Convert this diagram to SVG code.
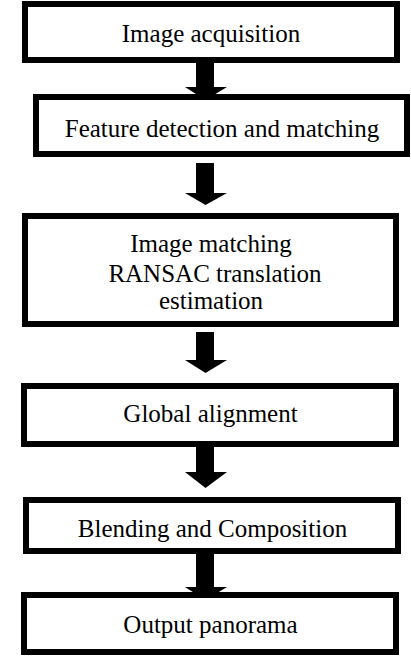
<svg xmlns="http://www.w3.org/2000/svg" width="411" height="661" viewBox="0 0 411 661">
<style>
.box{fill:#fff;stroke:#000;stroke-width:6}
.arrow{fill:#000}
.t{font-family:'Liberation Serif','Times New Roman',Times,serif;font-size:25px;fill:#000;text-anchor:middle}
</style>
<rect width="411" height="661" fill="#fff"/>
<g id="connectors">
<polygon class="arrow" points="196,62 214,62 214,87 227,87 205.5,100 185,87 196,87"/>
<polygon class="arrow" points="196,163 214,163 214,193 227,193 205.5,205 185,193 196,193"/>
<polygon class="arrow" points="196,332 214,332 214,360 227,360 205.5,373 185,360 196,360"/>
<polygon class="arrow" points="196,446 214,446 214,472 227,472 205.5,488 185,472 196,472"/>
<polygon class="arrow" points="196,553 214,553 214,587 227,587 205.5,600 185,587 196,587"/>
</g>
<g id="n1"><rect class="box" x="25" y="4" width="372" height="56"/><text class="t" x="211" y="42">Image acquisition</text></g>
<g id="n2"><rect class="box" x="36" y="97" width="371" height="57"/><text class="t" x="222" y="137">Feature detection and matching</text></g>
<g id="n3"><rect class="box" x="25" y="216" width="371" height="108"/>
<text class="t" x="211" y="252">Image matching</text>
<text class="t" x="215" y="282">RANSAC translation</text>
<text class="t" x="211" y="309">estimation</text></g>
<g id="n4"><rect class="box" x="24" y="386" width="372" height="58"/><text class="t" x="210.5" y="422">Global alignment</text></g>
<g id="n5"><rect class="box" x="26" y="500" width="372" height="51"/><text class="t" x="212.5" y="537">Blending and Composition</text></g>
<g id="n6"><rect class="box" x="24" y="595" width="372" height="57"/><text class="t" x="210.5" y="633">Output panorama</text></g>
</svg>
